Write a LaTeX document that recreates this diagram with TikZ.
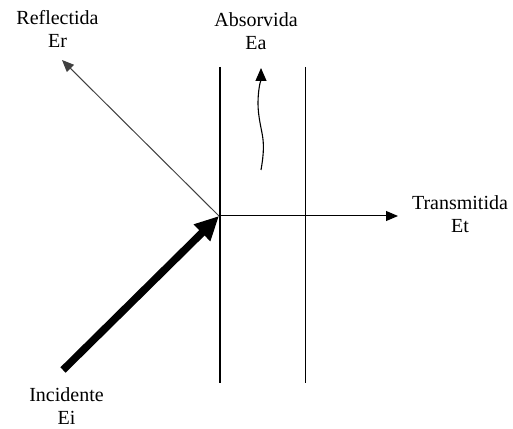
\documentclass[tikz,border=0pt]{standalone}
\usepackage{fontspec}
\setmainfont{Liberation Serif}
\usetikzlibrary{arrows.meta}
\begin{document}
\begin{tikzpicture}[x=1pt,y=1pt,
  lbl/.style={align=center,font=\fontsize{20}{23.5}\selectfont,inner sep=0pt,anchor=base},
  wall/.style={line width=1.2pt,black},
  thin arrow/.style={line width=1pt,-{Triangle[length=12pt,width=10pt]}},
  thick arrow/.style={line width=7.5pt,-{Triangle[length=24pt,width=22pt]}}]
\useasboundingbox (0,0) rectangle (513,428);
% walls
\coordinate (w1t) at (220,361);
\coordinate (w1b) at (220,45);
\coordinate (w2t) at (305.5,361);
\coordinate (w2b) at (305.5,45);
\draw[wall] (w1t) -- (w1b);
\draw[wall] (w2t) -- (w2b);
% points
\coordinate (P) at (219,212);
\coordinate (Ri) at (62,368);
\coordinate (Ti) at (398,212);
\coordinate (Ii) at (63,58);
\coordinate (A0) at (261,258);
\coordinate (A1) at (261,360);
% labels
\node[lbl] (refl) at (57.5,380) {Reflectida\\Er};
\node[lbl] (abs) at (256,378) {Absorvida\\Ea};
\node[lbl] (trans) at (460,195) {Transmitida\\Et};
\node[lbl] (inc) at (66.5,3.5) {Incidente\\Ei};
% arrows
\draw[thin arrow,black!75] (P) -- (Ri);
\draw[thin arrow] (P) -- (Ti);
\draw[thick arrow,line cap=butt] (Ii) -- (P);
\draw[line width=1.1pt,-{Triangle[length=13pt,width=11pt]}] (A0) .. controls (264,275) and (264,285) .. (262,295)
  .. controls (259,310) and (257,320) .. (258.5,335) .. controls (259.5,345) and (261,348) .. (A1);
\end{tikzpicture}
\end{document}
